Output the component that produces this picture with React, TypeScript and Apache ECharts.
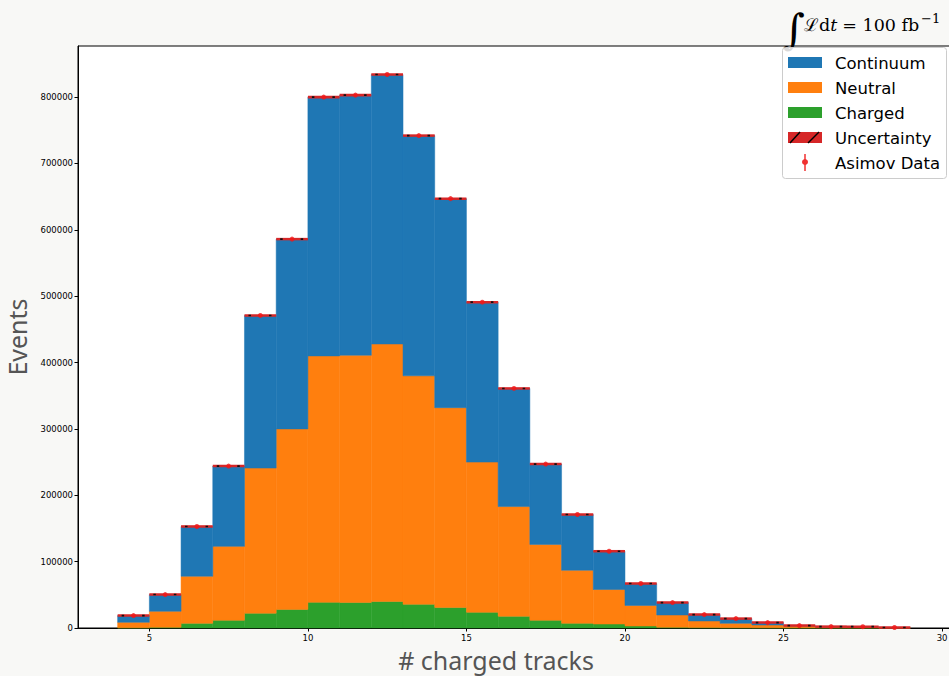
import React, { useEffect, useRef } from "react";
import * as echarts from "echarts";

// Bin lower edges (bin width 1 track)
const binEdges = [4, 5, 6, 7, 8, 9, 10, 11, 12, 13, 14, 15, 16, 17, 18, 19, 20, 21, 22, 23, 24, 25, 26, 27, 28];
// Stacked components (bottom to top): Charged, Neutral, Continuum
const charged = [300, 1000, 7000, 11600, 22200, 28000, 38700, 38500, 40000, 35700, 31000, 23600, 17600, 11600, 7000, 6000, 3000, 1000, 600, 400, 300, 200, 150, 100, 50];
const neutral = [8300, 24200, 71000, 111400, 218800, 272000, 371300, 372500, 388000, 344300, 301000, 226400, 165400, 114400, 80000, 52000, 31000, 18600, 10000, 6700, 4200, 3000, 1650, 1600, 650];
const continuum = [10100, 25200, 75000, 121000, 230000, 286000, 390000, 392000, 406000, 362000, 315000, 241000, 178000, 121000, 84000, 57700, 33000, 18700, 9600, 7100, 3600, 400, 300, 300, 100];
const uncertainty = [300, 500, 900, 1100, 1500, 1700, 2000, 2000, 2000, 1900, 1800, 1550, 1350, 1100, 900, 750, 550, 450, 350, 300, 250, 200, 150, 150, 100];
const asimov = [18700, 50400, 153000, 244000, 471000, 586000, 800000, 803000, 834000, 742000, 647000, 491000, 361000, 247000, 171000, 115700, 67000, 38300, 20200, 14200, 8100, 3600, 2100, 2000, 800];
const xTicks = [5, 10, 15, 20, 25, 30];

const C_BLUE = "#1f77b4";
const C_ORANGE = "#ff7f0e";
const C_GREEN = "#2ca02c";
const C_RED = "#d62728";
const BG = "#f8f8f6";

function stackData() {
  const g: number[][] = [];
  const o: number[][] = [];
  const b: number[][] = [];
  const u: number[][] = [];
  binEdges.forEach((lo, i) => {
    const hi = lo + 1;
    const c0 = charged[i];
    const n0 = c0 + neutral[i];
    const t0 = n0 + continuum[i];
    g.push([lo, hi, 0, c0]);
    o.push([lo, hi, c0, n0]);
    b.push([lo, hi, n0, t0]);
    u.push([lo, hi, t0 - uncertainty[i], t0 + uncertainty[i]]);
  });
  return { g, o, b, u };
}

const rectItem = (color: string) => (params: any, api: any) => {
  const p1 = api.coord([api.value(0), api.value(3)]);
  const p2 = api.coord([api.value(1), api.value(2)]);
  return {
    type: "rect",
    shape: { x: p1[0], y: p1[1], width: p2[0] - p1[0], height: p2[1] - p1[1] },
    style: { fill: color, stroke: color, lineWidth: 0.5 },
  };
};

const uncItem = (params: any, api: any) => {
  const p1 = api.coord([api.value(0), api.value(3)]);
  const p2 = api.coord([api.value(1), api.value(2)]);
  let h = p2[1] - p1[1];
  let y = p1[1];
  if (h < 2.5) {
    const mid = (p1[1] + p2[1]) / 2;
    h = 2.5;
    y = mid - h / 2;
  }
  const w = p2[0] - p1[0];
  return {
    type: "group",
    children: [
      { type: "rect", shape: { x: p1[0], y, width: w, height: h }, style: { fill: C_RED } },
      {
        type: "line",
        shape: { x1: p1[0] + 4, y1: y + h / 2, x2: p2[0], y2: y + h / 2 },
        style: { stroke: "#111", lineWidth: 1.6, lineDash: [2.5, 18] },
      },
    ],
  };
};

export default function App() {
  const ref = useRef<HTMLDivElement>(null);
  useEffect(() => {
    if (!ref.current) return;
    const chart = echarts.init(ref.current, undefined, { renderer: "svg" });
    const { g, o, b, u } = stackData();
    const pts = binEdges.map((lo, i) => [lo + 0.5, asimov[i]]);

    const legendY = [62, 87, 112, 137, 162];
    const legendNames = ["Continuum", "Neutral", "Charged", "Uncertainty", "Asimov Data"];
    const legendColors = [C_BLUE, C_ORANGE, C_GREEN, C_RED];
    const legendGraphics: any[] = [
      {
        type: "rect",
        shape: { x: 782.5, y: 47.5, width: 164, height: 131, r: 3 },
        style: { fill: "rgba(255,255,255,0.85)", stroke: "#cccccc", lineWidth: 1 },
        z: 100,
      },
    ];
    legendNames.forEach((name, i) => {
      const cy = legendY[i];
      if (i < 4) {
        legendGraphics.push({
          type: "rect",
          shape: { x: 788, y: cy - 5, width: 34, height: 11 },
          style: { fill: legendColors[i] },
          z: 101,
        });
      }
      if (i === 3) {
        legendGraphics.push({
          type: "line",
          shape: { x1: 790, y1: cy + 6, x2: 800, y2: cy - 5 },
          style: { stroke: "#000", lineWidth: 1.5 },
          z: 102,
        });
        legendGraphics.push({
          type: "line",
          shape: { x1: 808, y1: cy + 6, x2: 819, y2: cy - 5 },
          style: { stroke: "#000", lineWidth: 1.5 },
          z: 102,
        });
      }
      if (i === 4) {
        legendGraphics.push({
          type: "line",
          shape: { x1: 805, y1: cy - 8, x2: 805, y2: cy + 9 },
          style: { stroke: "#f03030", lineWidth: 1.5 },
          z: 101,
        });
        legendGraphics.push({
          type: "circle",
          shape: { cx: 805, cy: cy, r: 3 },
          style: { fill: "#f03030" },
          z: 102,
        });
      }
      legendGraphics.push({
        type: "text",
        x: 835,
        y: cy + 1,
        style: {
          text: name,
          fontSize: 16.5,
          fontFamily: "DejaVu Sans",
          fill: "#000",
          verticalAlign: "middle",
          align: "left",
        },
        z: 102,
      });
    });

    const annotation: any[] = [
      {
        type: "text",
        x: 794,
        y: 50,
        style: {
          text: "∫",
          fontSize: 42,
          fontFamily: "DejaVu Serif",
          fill: "#000",
          align: "center",
          verticalAlign: "bottom",
        },
        z: 50,
      },
      {
        type: "text",
        x: 804,
        y: 34,
        style: {
          text: "{n|ℒd}{i|t}{s|  }{n|= 100 fb}",
          fill: "#000",
          verticalAlign: "bottom",
          rich: {
            n: { fontSize: 17.5, fontFamily: "DejaVu Serif", fill: "#000" },
            i: { fontSize: 17.5, fontFamily: "DejaVu Serif", fontStyle: "italic", fill: "#000" },
            s: { fontSize: 8, fontFamily: "DejaVu Serif", fill: "#000" },
          },
        },
        z: 50,
      },
      {
        type: "text",
        x: 921,
        y: 25,
        style: {
          text: "−1",
          fontSize: 13,
          fontFamily: "DejaVu Serif",
          fill: "#000",
          verticalAlign: "bottom",
        },
        z: 50,
      },
    ];

    chart.setOption({
      animation: false,
      backgroundColor: BG,
      grid: {
        left: 78,
        top: 46,
        width: 872,
        height: 582,
        outerBoundsMode: "none",
        containLabel: false,
        show: true,
        backgroundColor: "#ffffff",
        borderColor: "#000",
        borderWidth: 1,
      },
      xAxis: {
        type: "value",
        min: 2.75,
        max: 30.25,
        name: "# charged tracks",
        nameLocation: "middle",
        nameGap: 19,
        nameTextStyle: { fontSize: 25, fontFamily: "Noto Sans", color: "#555", padding: [0, 36, 0, 0] },
        axisLine: { lineStyle: { color: "#000", width: 1 } },
        axisTick: { length: 3.5, lineStyle: { color: "#000" }, customValues: xTicks },
        axisLabel: { fontSize: 8.5, color: "#000", fontFamily: "DejaVu Sans", margin: 5, customValues: xTicks },
        splitLine: { show: false },
      },
      yAxis: {
        type: "value",
        min: 0,
        max: 877000,
        interval: 100000,
        name: "Events",
        nameLocation: "middle",
        nameGap: 37,
        nameRotate: 90,
        nameTextStyle: { fontSize: 25, fontFamily: "Noto Sans", color: "#555" },
        axisLine: { show: true, lineStyle: { color: "#000", width: 1 } },
        axisTick: { show: true, length: 3.5, lineStyle: { color: "#000" } },
        axisLabel: {
          fontSize: 8.5,
          color: "#000",
          fontFamily: "DejaVu Sans",
          margin: 5,
          showMaxLabel: false,
          formatter: (v: number) => String(v),
        },
        splitLine: { show: false },
      },
      series: [
        { type: "custom", name: "Charged", renderItem: rectItem(C_GREEN), data: g, encode: { x: [0, 1], y: [2, 3] }, z: 2 },
        { type: "custom", name: "Neutral", renderItem: rectItem(C_ORANGE), data: o, encode: { x: [0, 1], y: [2, 3] }, z: 2 },
        { type: "custom", name: "Continuum", renderItem: rectItem(C_BLUE), data: b, encode: { x: [0, 1], y: [2, 3] }, z: 2 },
        { type: "custom", name: "Uncertainty", renderItem: uncItem, data: u, encode: { x: [0, 1], y: [2, 3] }, z: 3 },
        {
          type: "scatter",
          name: "Asimov Data",
          data: pts,
          symbol: "circle",
          symbolSize: 5,
          itemStyle: { color: "#f01818" },
          z: 4,
        },
      ],
      graphic: [...annotation, ...legendGraphics],
    });
    return () => chart.dispose();
  }, []);
  return (
    <div
      ref={ref}
      style={{ position: "fixed", left: 0, top: 0, width: 949, height: 676, background: BG }}
    />
  );
}
